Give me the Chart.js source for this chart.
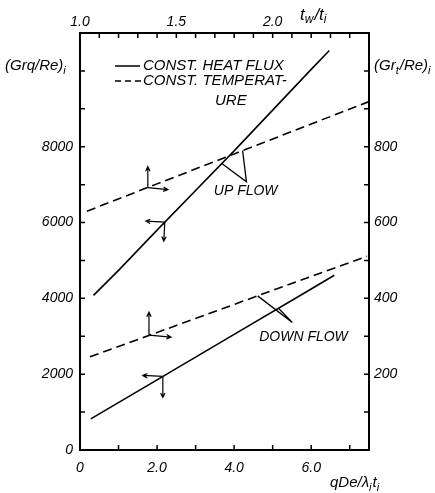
<!DOCTYPE html>
<html>
<head>
<meta charset="utf-8">
<script src="https://cdn.jsdelivr.net/npm/chart.js@4.4.1/dist/chart.umd.min.js"></script>
<style>
html,body{margin:0;padding:0;background:#fff;}
#wrap{width:435px;height:493px;}
</style>
</head>
<body>
<div id="wrap"><canvas id="c" width="435" height="493"></canvas></div>
<script>
// ---- data ----
// bottom axis: qDe/(lambda_i t_i); left axis: (Grq/Re)_i  -> constant heat flux
const heatUpX   = [0.35, 1.0, 2.0, 3.0, 4.0, 5.0, 6.0, 6.47];
const heatUpY   = [4080, 4740, 5800, 6845, 7890, 8965, 10040, 10540];
const heatDownX = [0.28, 2.0, 4.0, 6.0, 6.6];
const heatDownY = [821, 1851, 3050, 4248, 4609];
// top axis: t_w/t_i; right axis: (Grt/Re)_i -> constant temperature
const tempUpX   = [1.036, 1.4, 1.8, 2.2, 2.5];
const tempUpY   = [630, 702, 781, 860, 919];
const tempDownX = [1.052, 1.4, 1.8, 2.2, 2.49];
const tempDownY = [246, 310, 384, 458, 511];

// ticks
const bottomTicks = [0, 1, 2, 3, 4, 5, 6, 7];
const bottomLabels = {0: '0', 2: '2.0', 4: '4.0', 6: '6.0'};
const topTicks = [1.0, 1.1, 1.2, 1.3, 1.4, 1.5, 1.6, 1.7, 1.8, 1.9, 2.0, 2.1, 2.2, 2.3, 2.4];
const topLabels = {'1.0': '1.0', '1.5': '1.5', '2.0': '2.0'};
const leftTicks = [0, 1000, 2000, 3000, 4000, 5000, 6000, 7000, 8000, 9000, 10000];
const leftLabels = {0: '0', 2000: '2000', 4000: '4000', 6000: '6000', 8000: '8000'};
const rightTicks = [100, 200, 300, 400, 500, 600, 700, 800, 900, 1000];
const rightLabels = {200: '200', 400: '400', 600: '600', 800: '800'};

// annotation anchors (data units)
const arrowHeatUp   = [2.2, 6010];
const arrowHeatDown = [2.15, 1940];
const arrowTempUp   = [1.352, 692];
const arrowTempDown = [1.358, 303];

const pts = (xs, ys) => xs.map((x, i) => ({x: x, y: ys[i]}));
const FONT = '"Liberation Sans", Arial, sans-serif';
const tickFont = {family: FONT, style: 'italic', size: 14};

function interp(xs, ys, x) {
  for (let i = 0; i < xs.length - 1; i++) {
    if (x >= xs[i] && x <= xs[i + 1]) {
      return ys[i] + (ys[i + 1] - ys[i]) * (x - xs[i]) / (xs[i + 1] - xs[i]);
    }
  }
  return ys[ys.length - 1];
}

function drawArrow(ctx, x0, y0, x1, y1) {
  ctx.beginPath();
  ctx.moveTo(x0, y0); ctx.lineTo(x1, y1);
  const a = Math.atan2(y1 - y0, x1 - x0), h = 5, w = 0.45;
  ctx.moveTo(x1 - h * Math.cos(a - w), y1 - h * Math.sin(a - w));
  ctx.lineTo(x1, y1);
  ctx.lineTo(x1 - h * Math.cos(a + w), y1 - h * Math.sin(a + w));
  ctx.stroke();
}

function drawRich(ctx, parts, x, y, size) {
  let cx = x;
  parts.forEach(p => {
    const s = p.sub ? Math.round(size * 0.72) : size;
    ctx.font = 'italic ' + s + 'px ' + FONT;
    ctx.fillText(p.t, cx, p.sub ? y + size * 0.3 : y);
    cx += ctx.measureText(p.t).width + (p.sub ? 1 : 0);
  });
}

const deco = {
  id: 'deco',
  afterDraw(chart) {
    const ctx = chart.ctx, a = chart.chartArea, s = chart.scales;
    const X = s.x, Y = s.y, X2 = s.x2, Y2 = s.y2;
    ctx.save();
    ctx.strokeStyle = '#000'; ctx.fillStyle = '#000';
    ctx.lineWidth = 1.5;
    const L = 5;
    // inward tick marks
    ctx.beginPath();
    bottomTicks.forEach(v => { const p = X.getPixelForValue(v); ctx.moveTo(p, a.bottom); ctx.lineTo(p, a.bottom - L); });
    topTicks.forEach(v => { const p = X2.getPixelForValue(v); ctx.moveTo(p, a.top); ctx.lineTo(p, a.top + L); });
    leftTicks.forEach(v => { const p = Y.getPixelForValue(v); ctx.moveTo(a.left, p); ctx.lineTo(a.left + L, p); });
    rightTicks.forEach(v => { const p = Y2.getPixelForValue(v); ctx.moveTo(a.right, p); ctx.lineTo(a.right - L, p); });
    ctx.stroke();

    // axis-direction arrows
    ctx.lineWidth = 1.2;
    let px = X.getPixelForValue(arrowHeatUp[0]), py = Y.getPixelForValue(arrowHeatUp[1]);
    drawArrow(ctx, px, py, px - 19, py - 1); drawArrow(ctx, px, py, px - 1, py + 19);
    px = X.getPixelForValue(arrowHeatDown[0]); py = Y.getPixelForValue(arrowHeatDown[1]);
    drawArrow(ctx, px, py, px - 20, py - 1); drawArrow(ctx, px, py, px, py + 21);
    px = X2.getPixelForValue(arrowTempUp[0]); py = Y2.getPixelForValue(arrowTempUp[1]);
    drawArrow(ctx, px, py, px, py - 21); drawArrow(ctx, px, py, px + 20, py + 2);
    px = X2.getPixelForValue(arrowTempDown[0]); py = Y2.getPixelForValue(arrowTempDown[1]);
    drawArrow(ctx, px, py, px, py - 23); drawArrow(ctx, px, py, px + 22, py + 2);

    // V pointers to labels
    ctx.lineWidth = 1.3;
    const toTw = v => 1 + v / 5; // t_w/t_i relation of the two horizontal scales
    function vee(vx, vy, hx, tx) {
      const up = vy > 5000;
      const p0x = X.getPixelForValue(vx), p0y = Y.getPixelForValue(vy);
      const h1x = X.getPixelForValue(hx);
      const h1y = Y.getPixelForValue(up ? interp(heatUpX, heatUpY, hx) : interp(heatDownX, heatDownY, hx));
      const t1x = X.getPixelForValue(tx);
      const tyv = up ? interp(tempUpX, tempUpY, toTw(tx)) : interp(tempDownX, tempDownY, toTw(tx));
      const t1y = Y2.getPixelForValue(tyv);
      ctx.beginPath();
      ctx.moveTo(h1x, h1y); ctx.lineTo(p0x, p0y); ctx.lineTo(t1x, t1y);
      ctx.stroke();
    }
    vee(4.32, 7073, 3.68, 4.22);
    vee(5.51, 3364, 5.15, 4.61);

    // region labels
    ctx.font = 'italic 14px ' + FONT;
    ctx.textBaseline = 'middle'; ctx.textAlign = 'center';
    ctx.fillText('UP FLOW', X.getPixelForValue(4.3), Y.getPixelForValue(6834));
    ctx.fillText('DOWN FLOW', X.getPixelForValue(5.8), Y.getPixelForValue(2967));

    // legend
    ctx.textAlign = 'left';
    ctx.font = 'italic 15px ' + FONT;
    ctx.lineWidth = 1.5;
    ctx.beginPath(); ctx.moveTo(a.left + 35, 66); ctx.lineTo(a.left + 60, 66); ctx.stroke();
    ctx.fillText('CONST. HEAT FLUX', a.left + 63, 66);
    ctx.setLineDash([6, 4]);
    ctx.beginPath(); ctx.moveTo(a.left + 35, 81); ctx.lineTo(a.left + 61, 81); ctx.stroke();
    ctx.setLineDash([]);
    ctx.fillText('CONST. TEMPERAT-', a.left + 63, 81);
    ctx.fillText('URE', a.left + 135, 101);

    // axis titles
    ctx.textBaseline = 'middle';
    drawRich(ctx, [{t: '(Grq/Re)'}, {t: 'i', sub: true}], 5, 66, 15);
    drawRich(ctx, [{t: '(Gr'}, {t: 't', sub: true}, {t: '/Re)'}, {t: 'i', sub: true}], 374, 66, 15);
    drawRich(ctx, [{t: 't'}, {t: 'w', sub: true}, {t: '/t'}, {t: 'i', sub: true}], 300, 15, 17);
    drawRich(ctx, [{t: 'qDe/λ'}, {t: 'i', sub: true}, {t: 't'}, {t: 'i', sub: true}], 330, 483, 15);
    ctx.restore();
  }
};

const lineDs = (data, xAxis, yAxis, dash) => ({
  data: data, xAxisID: xAxis, yAxisID: yAxis, showLine: true,
  borderColor: '#000', borderWidth: 1.6, borderDash: dash,
  pointRadius: 0, fill: false, tension: 0
});

const axisBase = (pos) => ({
  position: pos,
  grid: {display: true, drawOnChartArea: false, drawTicks: false},
  border: {display: true, color: '#000', width: 2},
});

new Chart(document.getElementById('c'), {
  type: 'scatter',
  data: {
    datasets: [
      lineDs(pts(heatUpX, heatUpY), 'x', 'y', []),
      lineDs(pts(heatDownX, heatDownY), 'x', 'y', []),
      lineDs(pts(tempUpX, tempUpY), 'x2', 'y2', [9, 5]),
      lineDs(pts(tempDownX, tempDownY), 'x2', 'y2', [9, 5])
    ]
  },
  options: {
    responsive: false,
    devicePixelRatio: 1,
    animation: false,
    layout: {padding: 0},
    plugins: {legend: {display: false}, tooltip: {enabled: false}},
    scales: {
      x: Object.assign(axisBase('bottom'), {
        type: 'linear', min: 0, max: 7.5,
        afterBuildTicks: sc => { sc.ticks = bottomTicks.map(v => ({value: v})); },
        afterFit: sc => { sc.height = 43; },
        ticks: {font: tickFont, color: '#000', padding: 10, maxRotation: 0, autoSkip: false,
          callback: v => bottomLabels[v] || ''}
      }),
      x2: Object.assign(axisBase('top'), {
        type: 'linear', min: 1.0, max: 2.5,
        afterBuildTicks: sc => { sc.ticks = topTicks.map(v => ({value: v})); },
        afterFit: sc => { sc.height = 33; },
        ticks: {font: tickFont, color: '#000', padding: 2, maxRotation: 0, autoSkip: false,
          callback: v => topLabels[v.toFixed(1)] || ''}
      }),
      y: Object.assign(axisBase('left'), {
        type: 'linear', min: 0, max: 11000,
        afterBuildTicks: sc => { sc.ticks = leftTicks.map(v => ({value: v})); },
        afterFit: sc => { sc.width = 80; },
        ticks: {font: tickFont, color: '#000', padding: 7, autoSkip: false,
          callback: v => leftLabels[v] || ''}
      }),
      y2: Object.assign(axisBase('right'), {
        type: 'linear', min: 0, max: 1100,
        afterBuildTicks: sc => { sc.ticks = rightTicks.map(v => ({value: v})); },
        afterFit: sc => { sc.width = 66; },
        ticks: {font: tickFont, color: '#000', padding: 5, autoSkip: false,
          callback: v => rightLabels[v] || ''}
      })
    }
  },
  plugins: [deco]
});
</script>
</body>
</html>
